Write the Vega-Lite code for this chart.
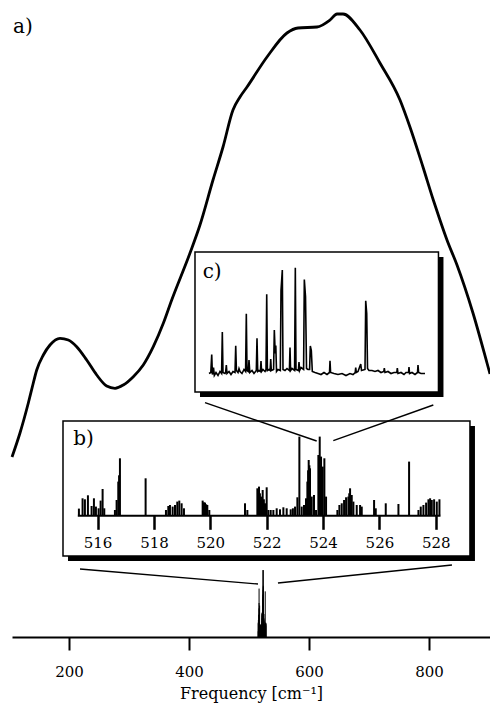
{
  "$schema": "https://vega.github.io/schema/vega-lite/v6.json",
  "width": 478,
  "height": 637,
  "autosize": "none",
  "padding": {"left": 12, "top": 0, "right": 0, "bottom": 68},
  "background": "white",
  "config": {"view": {"stroke": null}, "font": "DejaVu Serif"},
  "datasets": {
    "main": [
      {"freq": 105, "int": 180}, {"freq": 118.3, "int": 204}, {"freq": 132.2, "int": 234}, {"freq": 140.5, "int": 254},
      {"freq": 146.2, "int": 267}, {"freq": 157.2, "int": 282}, {"freq": 168.3, "int": 292}, {"freq": 185, "int": 298.7},
      {"freq": 198.8, "int": 297}, {"freq": 212.8, "int": 290.3}, {"freq": 229.5, "int": 277}, {"freq": 246.2, "int": 262},
      {"freq": 262.8, "int": 251}, {"freq": 276.7, "int": 248.7}, {"freq": 290.5, "int": 252}, {"freq": 307.2, "int": 260.3},
      {"freq": 323.8, "int": 272}, {"freq": 340.5, "int": 290.3}, {"freq": 357.2, "int": 313.7}, {"freq": 371.2, "int": 337},
      {"freq": 401.7, "int": 384}, {"freq": 418.3, "int": 412}, {"freq": 440, "int": 457}, {"freq": 456.7, "int": 490},
      {"freq": 473.3, "int": 527}, {"freq": 485, "int": 540}, {"freq": 496.7, "int": 550}, {"freq": 530, "int": 580},
      {"freq": 563.3, "int": 604}, {"freq": 581.7, "int": 609}, {"freq": 613.3, "int": 610}, {"freq": 635, "int": 617},
      {"freq": 646.7, "int": 623}, {"freq": 656.7, "int": 623}, {"freq": 685, "int": 607}, {"freq": 718.3, "int": 574},
      {"freq": 751.7, "int": 537}, {"freq": 768.3, "int": 510}, {"freq": 790, "int": 470}, {"freq": 807.2, "int": 437},
      {"freq": 818.3, "int": 417}, {"freq": 830, "int": 397}, {"freq": 846.7, "int": 372}, {"freq": 873.3, "int": 324},
      {"freq": 896.7, "int": 274}, {"freq": 901.7, "int": 263}
    ],
    "boxes": [
      {"x1": 190, "x2": 868.3, "y1": 216, "y2": 81},
      {"x1": 410, "x2": 815.8, "y1": 385, "y2": 245}
    ],
    "links": [
      {"x1": 426.7, "y1": 234.3, "x2": 612.8, "y2": 196},
      {"x1": 807.2, "y1": 232, "x2": 640.5, "y2": 196.3},
      {"x1": 218.3, "y1": 68, "x2": 515, "y2": 53},
      {"x1": 838.3, "y1": 72, "x2": 548.3, "y2": 54}
    ],
    "labels": [
      {"x": 106.7, "y": 604, "label": "a)"},
      {"x": 207.2, "y": 192, "label": "b)"},
      {"x": 422.8, "y": 359, "label": "c)"}
    ],
    "b": [
      {"wn": 515.337, "h": 6.7}, {"wn": 515.467, "h": 17}, {"wn": 515.55, "h": 16}, {"wn": 515.657, "h": 20},
      {"wn": 515.787, "h": 9.3}, {"wn": 515.87, "h": 17}, {"wn": 515.941, "h": 8.7}, {"wn": 516.036, "h": 7},
      {"wn": 516.107, "h": 14.7}, {"wn": 516.178, "h": 26.3}, {"wn": 516.237, "h": 7},
      {"wn": 516.615, "h": 5.3}, {"wn": 516.675, "h": 15.3}, {"wn": 516.734, "h": 33.7}, {"wn": 516.763, "h": 40}, {"wn": 516.793, "h": 57},
      {"wn": 517.704, "h": 37},
      {"wn": 518.426, "h": 5.3}, {"wn": 518.509, "h": 9.3}, {"wn": 518.568, "h": 10.3}, {"wn": 518.663, "h": 8.7},
      {"wn": 518.746, "h": 10.3}, {"wn": 518.828, "h": 13.7}, {"wn": 518.899, "h": 14.7}, {"wn": 518.982, "h": 12}, {"wn": 519.065, "h": 7},
      {"wn": 519.728, "h": 14.7}, {"wn": 519.77, "h": 13}, {"wn": 519.811, "h": 12.7}, {"wn": 519.853, "h": 11}, {"wn": 519.893, "h": 10.3}, {"wn": 519.964, "h": 5.3},
      {"wn": 521.231, "h": 12}, {"wn": 521.314, "h": 5.3},
      {"wn": 521.669, "h": 27}, {"wn": 521.728, "h": 28.7}, {"wn": 521.76, "h": 22}, {"wn": 521.799, "h": 18.7}, {"wn": 521.858, "h": 25.3},
      {"wn": 521.9, "h": 16}, {"wn": 521.941, "h": 12}, {"wn": 522.0, "h": 28}, {"wn": 522.059, "h": 5.3}, {"wn": 522.142, "h": 5.3}, {"wn": 522.237, "h": 5.3},
      {"wn": 522.355, "h": 7}, {"wn": 522.473, "h": 6}, {"wn": 522.592, "h": 8}, {"wn": 522.71, "h": 7}, {"wn": 522.852, "h": 6},
      {"wn": 522.93, "h": 7}, {"wn": 523.006, "h": 8.7}, {"wn": 523.089, "h": 18},
      {"wn": 523.16, "h": 78.7},
      {"wn": 523.243, "h": 8.7}, {"wn": 523.325, "h": 10.3}, {"wn": 523.396, "h": 17}, {"wn": 523.444, "h": 33.7}, {"wn": 523.47, "h": 45},
      {"wn": 523.491, "h": 55.3}, {"wn": 523.515, "h": 50}, {"wn": 523.538, "h": 47}, {"wn": 523.598, "h": 18.7}, {"wn": 523.68, "h": 20.3}, {"wn": 523.751, "h": 5.3},
      {"wn": 523.834, "h": 60.3}, {"wn": 523.858, "h": 40}, {"wn": 523.882, "h": 78.7}, {"wn": 523.905, "h": 50}, {"wn": 523.929, "h": 58.7},
      {"wn": 523.96, "h": 35}, {"wn": 523.988, "h": 48.7}, {"wn": 524.047, "h": 57}, {"wn": 524.107, "h": 18.7},
      {"wn": 524.509, "h": 5.3}, {"wn": 524.58, "h": 10.3}, {"wn": 524.663, "h": 12}, {"wn": 524.746, "h": 15.3}, {"wn": 524.817, "h": 18},
      {"wn": 524.899, "h": 18.7}, {"wn": 524.93, "h": 22}, {"wn": 524.959, "h": 27}, {"wn": 525.018, "h": 20.3}, {"wn": 525.077, "h": 13.7},
      {"wn": 525.195, "h": 10.3}, {"wn": 525.314, "h": 10.3}, {"wn": 525.373, "h": 8.7},
      {"wn": 525.811, "h": 15.3}, {"wn": 525.87, "h": 7},
      {"wn": 526.225, "h": 12},
      {"wn": 526.675, "h": 11.3},
      {"wn": 527.053, "h": 53.7},
      {"wn": 527.385, "h": 5.3}, {"wn": 527.467, "h": 8.7}, {"wn": 527.562, "h": 10.3}, {"wn": 527.657, "h": 12.7}, {"wn": 527.74, "h": 16},
      {"wn": 527.799, "h": 17}, {"wn": 527.858, "h": 15.3}, {"wn": 527.941, "h": 16}, {"wn": 528.036, "h": 13.7}, {"wn": 528.13, "h": 16}
    ],
    "c": [
      {"wn": 523.735, "h": 0}, {"wn": 523.7395, "h": 1}, {"wn": 523.7418, "h": 19}, {"wn": 523.7435, "h": -1},
      {"wn": 523.7463, "h": 6}, {"wn": 523.7483, "h": -2}, {"wn": 523.7525, "h": 1}, {"wn": 523.7575, "h": -2},
      {"wn": 523.7625, "h": 2}, {"wn": 523.7665, "h": 0}, {"wn": 523.7683, "h": 41.5}, {"wn": 523.77, "h": 1},
      {"wn": 523.775, "h": 0}, {"wn": 523.7765, "h": 1}, {"wn": 523.7783, "h": 8.5}, {"wn": 523.78, "h": 0},
      {"wn": 523.785, "h": 2}, {"wn": 523.79, "h": -1}, {"wn": 523.795, "h": 2}, {"wn": 523.8, "h": 1},
      {"wn": 523.8018, "h": 27.8}, {"wn": 523.8035, "h": 3}, {"wn": 523.8075, "h": 1}, {"wn": 523.81, "h": 5},
      {"wn": 523.8125, "h": 2}, {"wn": 523.8175, "h": 0}, {"wn": 523.8225, "h": 4}, {"wn": 523.8265, "h": 2},
      {"wn": 523.8283, "h": 59.8}, {"wn": 523.83, "h": 3}, {"wn": 523.8333, "h": 2}, {"wn": 523.835, "h": 13.5},
      {"wn": 523.837, "h": 1}, {"wn": 523.8425, "h": 3}, {"wn": 523.8475, "h": 0}, {"wn": 523.8533, "h": 3},
      {"wn": 523.855, "h": 35.2}, {"wn": 523.8568, "h": 2}, {"wn": 523.86, "h": 3}, {"wn": 523.8635, "h": 2},
      {"wn": 523.865, "h": 12.5}, {"wn": 523.8665, "h": 2}, {"wn": 523.87, "h": 4}, {"wn": 523.875, "h": 2},
      {"wn": 523.8775, "h": 4}, {"wn": 523.8793, "h": 79.2}, {"wn": 523.881, "h": 3}, {"wn": 523.885, "h": 4},
      {"wn": 523.8878, "h": 3}, {"wn": 523.8893, "h": 14.5}, {"wn": 523.8908, "h": 3}, {"wn": 523.8965, "h": 4},
      {"wn": 523.8983, "h": 43.5}, {"wn": 523.9005, "h": 20}, {"wn": 523.902, "h": 28}, {"wn": 523.9038, "h": 2},
      {"wn": 523.9075, "h": 4}, {"wn": 523.9133, "h": 3}, {"wn": 523.915, "h": 83}, {"wn": 523.9183, "h": 103.5},
      {"wn": 523.92, "h": 4}, {"wn": 523.925, "h": 3}, {"wn": 523.93, "h": 5}, {"wn": 523.936, "h": 3},
      {"wn": 523.9375, "h": 26}, {"wn": 523.939, "h": 3}, {"wn": 523.9425, "h": 5}, {"wn": 523.949, "h": 3},
      {"wn": 523.9508, "h": 105.8}, {"wn": 523.9525, "h": 4}, {"wn": 523.9585, "h": 3}, {"wn": 523.96, "h": 11.5},
      {"wn": 523.9615, "h": 3}, {"wn": 523.965, "h": 6}, {"wn": 523.9715, "h": 4}, {"wn": 523.9733, "h": 94},
      {"wn": 523.9763, "h": 77}, {"wn": 523.9788, "h": 5}, {"wn": 523.9825, "h": 4}, {"wn": 523.9865, "h": 4},
      {"wn": 523.9883, "h": 27.5}, {"wn": 523.9908, "h": 23}, {"wn": 523.9933, "h": 2}, {"wn": 524.0, "h": 1},
      {"wn": 524.0075, "h": 0}, {"wn": 524.015, "h": -1}, {"wn": 524.0225, "h": 1}, {"wn": 524.03, "h": -1},
      {"wn": 524.0363, "h": 1}, {"wn": 524.0375, "h": 12.8}, {"wn": 524.039, "h": 1}, {"wn": 524.0475, "h": 0},
      {"wn": 524.0575, "h": -1}, {"wn": 524.0675, "h": 0}, {"wn": 524.0775, "h": -2}, {"wn": 524.0875, "h": 0},
      {"wn": 524.095, "h": -1}, {"wn": 524.1005, "h": 1}, {"wn": 524.1018, "h": 5.8}, {"wn": 524.1033, "h": 1},
      {"wn": 524.1075, "h": 2}, {"wn": 524.1143, "h": 9.5}, {"wn": 524.1163, "h": 3}, {"wn": 524.125, "h": 4},
      {"wn": 524.1268, "h": 72.8}, {"wn": 524.1293, "h": 60}, {"wn": 524.1313, "h": 5}, {"wn": 524.135, "h": 3},
      {"wn": 524.1425, "h": 3}, {"wn": 524.15, "h": 2}, {"wn": 524.1575, "h": 3}, {"wn": 524.165, "h": 1},
      {"wn": 524.172, "h": 2}, {"wn": 524.1733, "h": 5.5}, {"wn": 524.175, "h": 1}, {"wn": 524.1825, "h": 2},
      {"wn": 524.19, "h": 0}, {"wn": 524.1975, "h": 1}, {"wn": 524.2045, "h": 1}, {"wn": 524.2058, "h": 5.5},
      {"wn": 524.2075, "h": 0}, {"wn": 524.215, "h": 1}, {"wn": 524.2225, "h": -1}, {"wn": 524.2275, "h": 1},
      {"wn": 524.2338, "h": 1}, {"wn": 524.235, "h": 6.5}, {"wn": 524.2365, "h": 0}, {"wn": 524.2425, "h": 1},
      {"wn": 524.25, "h": -1}, {"wn": 524.2563, "h": 1}, {"wn": 524.2575, "h": 8.5}, {"wn": 524.259, "h": 1},
      {"wn": 524.265, "h": 0}, {"wn": 524.275, "h": 0}
    ]
  },
  "layer": [
    {
      "layer": [
        {
          "data": {"name": "main"},
          "mark": {"type": "line", "color": "black", "strokeWidth": 2.8, "interpolate": "monotone"},
          "encoding": {
            "x": {"field": "freq", "type": "quantitative",
                  "scale": {"domain": [105, 901.7], "nice": false, "zero": false},
                  "axis": {"orient": "bottom", "values": [200, 400, 600, 800], "title": "Frequency [cm⁻¹]",
                           "grid": false, "domainColor": "black", "domainWidth": 2, "tickColor": "black",
                           "tickWidth": 2, "tickSize": 13, "labelFont": "DejaVu Serif", "labelFontSize": 15,
                           "labelColor": "black", "labelPadding": 14, "labelFlush": false,
                           "titleFont": "DejaVu Serif", "titleFontSize": 16, "titleFontWeight": "normal",
                           "titleColor": "black", "titlePadding": 6}},
            "y": {"field": "int", "type": "quantitative",
                  "scale": {"domain": [0, 637], "nice": false, "zero": false}, "axis": null}
          }
        },
        {
          "data": {"name": "boxes"},
          "mark": {"type": "rect", "color": "black", "xOffset": 5, "x2Offset": 5, "yOffset": 5, "y2Offset": 5},
          "encoding": {
            "x": {"field": "x1", "type": "quantitative"},
            "x2": {"field": "x2"},
            "y": {"field": "y1", "type": "quantitative", "axis": null},
            "y2": {"field": "y2"}
          }
        },
        {
          "data": {"name": "boxes"},
          "mark": {"type": "rect", "fill": "white", "stroke": "black", "strokeWidth": 1.5},
          "encoding": {
            "x": {"field": "x1", "type": "quantitative"},
            "x2": {"field": "x2"},
            "y": {"field": "y1", "type": "quantitative", "axis": null},
            "y2": {"field": "y2"}
          }
        },
        {
          "data": {"name": "links"},
          "mark": {"type": "rule", "color": "black", "strokeWidth": 1.4},
          "encoding": {
            "x": {"field": "x1", "type": "quantitative"},
            "x2": {"field": "x2"},
            "y": {"field": "y1", "type": "quantitative", "axis": null},
            "y2": {"field": "y2"}
          }
        },
        {
          "data": {"name": "labels"},
          "mark": {"type": "text", "align": "left", "baseline": "alphabetic", "font": "DejaVu Serif", "fontSize": 20, "color": "black"},
          "encoding": {
            "x": {"field": "x", "type": "quantitative"},
            "y": {"field": "y", "type": "quantitative", "axis": null},
            "text": {"field": "label"}
          }
        }
      ]
    },
    {
      "data": {"name": "b"},
      "mark": {"type": "rule", "color": "black", "strokeWidth": 1},
      "encoding": {
        "x": {"field": "wn", "type": "quantitative", "scale": {"domain": [105, 901.7], "nice": false, "zero": false}, "axis": null},
        "y": {"field": "h", "type": "quantitative", "scale": {"domain": [0, 100], "range": [637, 552], "nice": false, "zero": false}, "axis": null},
        "y2": {"datum": 0}
      }
    },
    {
      "data": {"name": "b"},
      "mark": {"type": "rule", "color": "black", "strokeWidth": 2},
      "encoding": {
        "x": {"field": "wn", "type": "quantitative",
              "scale": {"domain": [515.28, 528.15], "range": [65.3, 428], "nice": false, "zero": false},
              "axis": {"orient": "bottom", "offset": -121.7, "values": [516, 518, 520, 522, 524, 526, 528], "title": null,
                       "grid": false, "domainColor": "black", "domainWidth": 2, "tickColor": "black", "tickWidth": 2.5,
                       "tickSize": 14, "labelFont": "DejaVu Serif", "labelFontSize": 15, "labelColor": "black",
                       "labelPadding": 6, "labelFlush": false, "zindex": 1}},
        "y": {"field": "h", "type": "quantitative", "scale": {"domain": [0, 100], "range": [515.3, 415.3], "nice": false, "zero": false}, "axis": null},
        "y2": {"datum": 0}
      }
    },
    {
      "data": {"name": "c"},
      "mark": {"type": "line", "color": "black", "strokeWidth": 1.6},
      "encoding": {
        "x": {"field": "wn", "type": "quantitative", "scale": {"domain": [523.7, 524.31], "range": [183, 427], "nice": false, "zero": false}, "axis": null},
        "y": {"field": "h", "type": "quantitative", "scale": {"domain": [0, 100], "range": [373.5, 273.5], "nice": false, "zero": false}, "axis": null}
      }
    }
  ],
  "resolve": {"scale": {"x": "independent", "y": "independent"}}
}
